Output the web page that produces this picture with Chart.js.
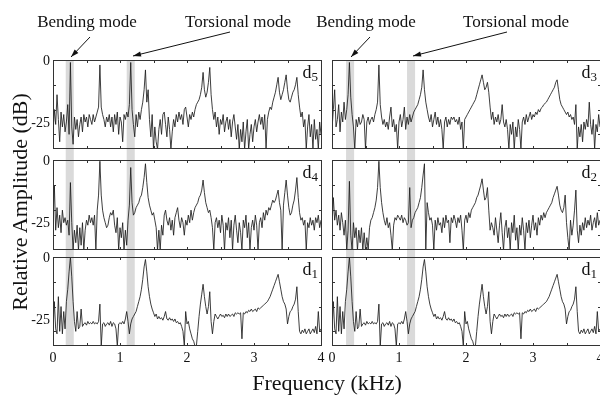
<!DOCTYPE html>
<html>
<head>
<meta charset="utf-8">
<script src="https://cdn.jsdelivr.net/npm/chart.js@4.4.0/dist/chart.umd.min.js"></script>
<style>
  html, body { margin: 0; padding: 0; background: #fff; }
  #figura { position: relative; width: 600px; height: 399px; overflow: hidden; background: #fff; }
  #figura canvas { position: absolute; }
  #anotaciones { position: absolute; left: 0; top: 0; pointer-events: none; }
  #anotaciones text { font-family: 'Liberation Serif', 'Times New Roman', serif; fill: #111; }
</style>
</head>
<body>
<div id="figura">
  <svg id="anotaciones" width="600" height="399"></svg>
</div>
<script>
// Espectros (dB), un valor cada 0.02 kHz de 0 a 4 kHz
const freqStep = 0.02;

const d5 = [
  -30,-20,-26,-14,-24,-33,-21,-27,-22,-29,
  -25,-18,-30,-1,-27,-34,-23,-28,-24,-31,
  -26,-23,-29,-22,-25,-23,-27,-22,-24,-26,
  -22,-25,-23,-21,-19,-2,-19,-22,-24,-27,
  -23,-25,-22,-27,-23,-29,-22,-26,-21,-30,
  -23,-25,-33,-22,-24,-21,-23,-18,-1,-20,
  -26,-31,-22,-27,-21,-24,-20,-17,-12,-4,
  -17,-12,-24,-31,-22,-36,-27,-33,-36,-28,
  -24,-30,-22,-21,-26,-31,-23,-28,-36,-29,
  -24,-27,-22,-25,-21,-24,-22,-26,-20,-19,
  -23,-27,-22,-24,-21,-23,-20,-18,-17,-16,
  -14,-11,-5,-12,-15,-13,-9,-3,-14,-20,
  -24,-21,-27,-23,-30,-24,-26,-22,-29,-25,
  -23,-28,-24,-31,-25,-22,-27,-32,-26,-36,
  -28,-33,-25,-36,-29,-24,-36,-30,-26,-33,
  -27,-24,-29,-25,-22,-26,-23,-28,-22,-36,
  -24,-21,-19,-20,-17,-15,-13,-10,-7,-13,
  -16,-14,-12,-9,-6,-12,-16,-17,-15,-13,
  -12,-10,-7,-14,-19,-23,-21,-27,-24,-36,
  -27,-22,-31,-26,-36,-24,-32,-28,-36,-25,
  -30
];

const d4 = [
  -26,-10,-28,-19,-27,-22,-29,-20,-25,-23,
  -26,-24,-30,-9,-25,-36,-28,-33,-26,-36,
  -27,-34,-25,-36,-28,-24,-26,-22,-25,-23,
  -26,-22,-36,-20,-14,-0.5,-14,-20,-23,-25,
  -27,-26,-23,-21,-22,-20,-26,-29,-23,-36,
  -27,-31,-25,-36,-28,-34,-24,-18,-3,-17,
  -22,-21,-19,-18,-17,-15,-14,-11,-7,-1.5,
  -9,-15,-18,-20,-22,-21,-24,-27,-36,-28,
  -36,-26,-30,-22,-20,-24,-26,-23,-28,-24,
  -30,-23,-21,-19,-24,-27,-23,-25,-30,-24,
  -26,-22,-25,-20,-24,-21,-19,-18,-17,-15,
  -14,-12,-8,-13,-17,-19,-21,-20,-23,-27,
  -36,-25,-23,-27,-24,-29,-22,-26,-36,-25,
  -28,-23,-31,-24,-36,-26,-22,-28,-33,-25,
  -29,-36,-24,-27,-22,-31,-25,-36,-27,-24,
  -28,-22,-26,-36,-25,-23,-27,-21,-24,-20,
  -22,-19,-20,-18,-16,-17,-16,-14,-12,-17,
  -20,-36,-18,-13,-8,-14,-19,-22,-21,-18,
  -16,-12,-7,-15,-21,-24,-23,-26,-24,-36,
  -25,-27,-23,-26,-24,-28,-23,-25,-22,-27,
  -24
];

const d1 = [
  -30,-18,-29,-31,-16,-30,-20,-31,-22,-29,
  -18,-13,-6,0,-8,-18,-26,-30,-22,-29,
  -28,-21,-28,-27,-26.5,-27.5,-26,-27,-26.5,-27,
  -26,-27,-26.5,-27,-26,-19,-36,-27,-26.5,-28,
  -27,-26.5,-27.5,-26,-28,-26.5,-27,-29,-36,-27,
  -26.5,-27,-26,-27,-25,-22,-26,-31,-27,-25,
  -24,-23,-22,-20,-18,-16,-13,-9,-4,-1,
  -6,-12,-16,-19,-21,-22.5,-24,-23,-25,-24,
  -25,-24.5,-25.5,-24,-22,-25,-25.5,-24.5,-25.5,-25,
  -26,-25,-26.5,-26,-27,-26.5,-28,-30,-36,-22,
  -27,-26,-29,-31,-33,-34,-36,-36,-30,-24,
  -19,-15,-11,-16,-20,-23,-20,-14,-26,-31,
  -26,-23,-24,-25,-24,-23,-24,-23.5,-24.5,-23,
  -24,-23,-24,-23.5,-23,-24,-22.5,-23,-22.5,-23,
  -22.5,-33,-22.5,-23,-22,-22.5,-21.5,-22,-21,-22,
  -21.5,-21,-22,-20.5,-21,-20.5,-20,-19.5,-19,-18.5,
  -18,-17,-16,-14.5,-13,-11.5,-10,-8.5,-7,-10,
  -13,-16,-18,-19,-21,-27,-24,-22,-21.5,-20,
  -19,-17,-12,-22,-30,-31,-29.5,-30.5,-29,-31,
  -30,-29,-31,-30,-29,-30.5,-28,-31,-22,-30,
  -29
];

const d3 = [
  -28,-20,-12,-27,-24,-18,-29,-21,-25,-17,
  -24,-20,-14,-1,-15,-22,-27,-36,-24,-27,
  -23,-26,-25,-22,-24,-36,-25,-23,-26,-24,
  -23,-25,-22,-20,-17,-2,-18,-23,-26,-24,
  -27,-25,-28,-23,-19,-27,-24,-29,-26,-36,
  -25,-22,-27,-24,-19,-28,-23,-26,-22,-25,
  -23,-21,-20,-19,-18,-16,-14,-11,-4,-12,
  -17,-20,-23,-25,-22,-27,-24,-21,-26,-23,
  -27,-24,-28,-36,-25,-23,-27,-24,-26,-23,
  -24,-23,-25,-24,-26,-23,-28,-25,-36,-24,
  -23,-22,-21,-20,-19,-18,-17,-16,-14,-12,
  -10,-8,-6,-9,-12,-11,-9,-13,-19,-24,
  -21,-26,-23,-25,-22,-26,-24,-18,-25,-27,
  -24,-28,-36,-26,-30,-25,-36,-27,-31,-24,
  -28,-36,-25,-23,-26,-22,-25,-23,-21,-24,
  -22,-23,-21,-22,-20,-21,-19.5,-19,-18,-17.5,
  -17,-16,-15,-14,-13,-12,-11,-9,-8,-12,
  -16,-18,-19,-20,-21,-22,-21,-23,-22,-24,
  -23,-26,-18,-36,-27,-31,-26,-33,-25,-28,
  -24,-27,-17,-26,-30,-24,-36,-26,-29,-22,
  -27
];

const d2 = [
  -27,-15,-24,-20,-26,-22,-28,-21,-25,-30,
  -24,-36,-28,-8.5,-30,-36,-25,-31,-27,-36,
  -28,-33,-27,-36,-29,-36,-31,-36,-27,-24,
  -23,-21,-19,-16,-11,-0.5,-11,-17,-21,-24,
  -26,-23,-27,-25,-30,-36,-26,-23,-24,-22,
  -23,-24,-22,-25,-23,-24,-26,-25,-11,-27,
  -24,-23,-21,-20,-19,-17,-15,-11,-6,-1.5,
  -36,-17,-21,-24,-23,-26,-36,-24,-28,-23,
  -26,-25,-29,-23,-27,-22,-25,-24,-33,-23,
  -25,-22,-24,-27,-23,-25,-22,-28,-36,-24,
  -22,-25,-21,-23,-20,-19,-18,-17,-15,-14,
  -12,-10,-7.5,-12,-16,-15,-11,-20,-28,-25,
  -27,-30,-23,-28,-33,-26,-21,-29,-36,-27,
  -24,-31,-27,-36,-25,-29,-22,-32,-27,-36,
  -26,-30,-23,-28,-36,-25,-29,-24,-31,-26,
  -22,-28,-25,-30,-23,-26,-22,-24,-21,-23,
  -21,-20,-19,-18,-17,-15,-13.5,-12,-10.5,-14,
  -18,-20,-21,-19,-14,-25,-31,-36,-24,-30,
  -26,-20,-12,-28,-33,-26,-30,-25,-28,-23,
  -27,-24,-26,-22,-28,-25,-23,-27,-21,-26,
  -24
];

// Ejes
const yMin = -35.5;
const yMax = 0;
const yTickLabels = [0, -25];
const yTickMarks = [-10, -20, -30];
const xTickLabels = [0, 1, 2, 3, 4];
const xTickMarks = [0.5, 1, 1.5, 2, 2.5, 3, 3.5];

// Bandas grises (kHz) de cada columna
const bandasIzq = [[0.19, 0.31], [1.10, 1.22]];
const bandasDer = [[0.21, 0.33], [1.12, 1.24]];

const textos = ['Bending mode', 'Torsional mode'];
const tituloY = 'Relative Amplitude (dB)';
const tituloX = 'Frequency (kHz)';

const columnas = [
  { left: 0, width: 327, padLeft: 53, padRight: 6, bandas: bandasIzq, etiquetasY: true },
  { left: 327, width: 273, padLeft: 5, padRight: 0, bandas: bandasDer, etiquetasY: false }
];
const filas = [
  { top: 40, height: 114, padTop: 20, padBottom: 6, etiquetasX: false },
  { top: 154, height: 97, padTop: 6, padBottom: 2, etiquetasX: false },
  { top: 251, height: 119, padTop: 6, padBottom: 25, etiquetasX: true }
];
const paneles = [
  { serie: d5, sub: '5', col: 0, fila: 0 },
  { serie: d4, sub: '4', col: 0, fila: 1 },
  { serie: d1, sub: '1', col: 0, fila: 2 },
  { serie: d3, sub: '3', col: 1, fila: 0 },
  { serie: d2, sub: '2', col: 1, fila: 1 },
  { serie: d1, sub: '1', col: 1, fila: 2 }
];

const fuente = '"Liberation Serif", "Times New Roman", serif';

// Plugin que dibuja bandas, marco, marcas y etiquetas de cada panel
function crearPluginPanel(panel) {
  const col = columnas[panel.col];
  const fila = filas[panel.fila];
  return {
    id: 'panel',
    beforeDatasetsDraw(chart) {
      const { ctx, chartArea, scales } = chart;
      const y0 = panel.fila === 0 ? chartArea.top : 0;
      const y1 = panel.fila === 2 ? chartArea.bottom : chart.height;
      ctx.save();
      ctx.fillStyle = '#dadada';
      col.bandas.forEach(b => {
        const a = scales.x.getPixelForValue(b[0]);
        const c = scales.x.getPixelForValue(b[1]);
        ctx.fillRect(a, y0, c - a, y1 - y0);
      });
      ctx.restore();
    },
    afterDatasetsDraw(chart) {
      const { ctx, chartArea, scales } = chart;
      const { left, right, top, bottom } = chartArea;
      ctx.save();
      ctx.strokeStyle = '#333';
      ctx.lineWidth = 1;
      ctx.strokeRect(left + 0.5, top + 0.5, right - left, bottom - top);

      // marcas hacia dentro
      ctx.beginPath();
      xTickMarks.forEach(v => {
        const px = Math.round(scales.x.getPixelForValue(v)) + 0.5;
        ctx.moveTo(px, top);
        ctx.lineTo(px, top + 3);
        ctx.moveTo(px, bottom + 1);
        ctx.lineTo(px, bottom - 2);
      });
      yTickMarks.forEach(v => {
        const py = Math.round(scales.y.getPixelForValue(v)) + 0.5;
        ctx.moveTo(left, py);
        ctx.lineTo(left + 3, py);
        ctx.moveTo(right + 1, py);
        ctx.lineTo(right - 2, py);
      });
      ctx.stroke();

      ctx.fillStyle = '#111';
      ctx.font = '14px ' + fuente;
      if (col.etiquetasY) {
        ctx.textAlign = 'right';
        ctx.textBaseline = 'middle';
        yTickLabels.forEach(v => {
          ctx.fillText(String(v), left - 3, scales.y.getPixelForValue(v) + 1);
        });
      }
      if (fila.etiquetasX) {
        ctx.textAlign = 'center';
        ctx.textBaseline = 'middle';
        xTickLabels.forEach(v => {
          ctx.fillText(String(v), scales.x.getPixelForValue(v), bottom + 13);
        });
      }

      // etiqueta del panel: d con subindice
      ctx.textAlign = 'right';
      ctx.textBaseline = 'alphabetic';
      ctx.font = '13px ' + fuente;
      const wSub = ctx.measureText(panel.sub).width;
      ctx.fillText(panel.sub, right - 3, top + 21);
      ctx.font = '18px ' + fuente;
      ctx.fillText('d', right - 3 - wSub, top + 18);
      ctx.restore();
    }
  };
}

function crearPanel(panel) {
  const col = columnas[panel.col];
  const fila = filas[panel.fila];
  const canvas = document.createElement('canvas');
  canvas.width = col.width;
  canvas.height = fila.height;
  canvas.style.left = col.left + 'px';
  canvas.style.top = fila.top + 'px';
  canvas.style.width = col.width + 'px';
  canvas.style.height = fila.height + 'px';
  document.getElementById('figura').insertBefore(canvas, document.getElementById('anotaciones'));

  const puntos = panel.serie.map((v, i) => ({ x: +(i * freqStep).toFixed(2), y: v }));

  new Chart(canvas.getContext('2d'), {
    type: 'line',
    data: {
      datasets: [{
        data: puntos,
        borderColor: '#1c1c1c',
        borderWidth: 0.85,
        pointRadius: 0,
        tension: 0,
        fill: false
      }]
    },
    options: {
      responsive: false,
      animation: false,
      devicePixelRatio: 1,
      layout: {
        padding: { left: col.padLeft, right: col.padRight, top: fila.padTop, bottom: fila.padBottom }
      },
      scales: {
        x: { type: 'linear', min: 0, max: 4, display: false },
        y: { min: yMin, max: yMax, display: false }
      },
      plugins: {
        legend: { display: false },
        tooltip: { enabled: false }
      }
    },
    plugins: [crearPluginPanel(panel)]
  });
}

// Textos y flechas encima de los paneles
function crearAnotaciones() {
  const svg = document.getElementById('anotaciones');
  const ns = 'http://www.w3.org/2000/svg';

  function texto(t, x, y, size, rot) {
    const el = document.createElementNS(ns, 'text');
    el.textContent = t;
    el.setAttribute('text-anchor', 'middle');
    el.setAttribute('font-size', size);
    if (rot) {
      el.setAttribute('transform', `translate(${x},${y}) rotate(-90)`);
    } else {
      el.setAttribute('x', x);
      el.setAttribute('y', y);
    }
    svg.appendChild(el);
  }

  function flecha(x1, y1, x2, y2) {
    const linea = document.createElementNS(ns, 'line');
    linea.setAttribute('x1', x1);
    linea.setAttribute('y1', y1);
    linea.setAttribute('x2', x2);
    linea.setAttribute('y2', y2);
    linea.setAttribute('stroke', '#111');
    linea.setAttribute('stroke-width', 1);
    svg.appendChild(linea);
    const ang = Math.atan2(y2 - y1, x2 - x1);
    const largo = 8, ancho = 2.6;
    const bx = x2 - largo * Math.cos(ang), by = y2 - largo * Math.sin(ang);
    const px = -Math.sin(ang) * ancho, py = Math.cos(ang) * ancho;
    const punta = document.createElementNS(ns, 'polygon');
    punta.setAttribute('points', `${x2},${y2} ${bx + px},${by + py} ${bx - px},${by - py}`);
    punta.setAttribute('fill', '#111');
    svg.appendChild(punta);
  }

  texto(textos[0], 87, 27, 17);
  texto(textos[1], 238, 27, 17);
  texto(textos[0], 366, 27, 17);
  texto(textos[1], 516, 27, 17);
  flecha(90, 37, 71, 57);
  flecha(230, 32, 133, 56);
  flecha(370, 37, 351, 57);
  flecha(507, 32, 413, 56);

  texto(tituloY, 27, 202, 22, true);
  texto(tituloX, 327, 390, 22);
}

paneles.forEach(crearPanel);
crearAnotaciones();
</script>
</body>
</html>
